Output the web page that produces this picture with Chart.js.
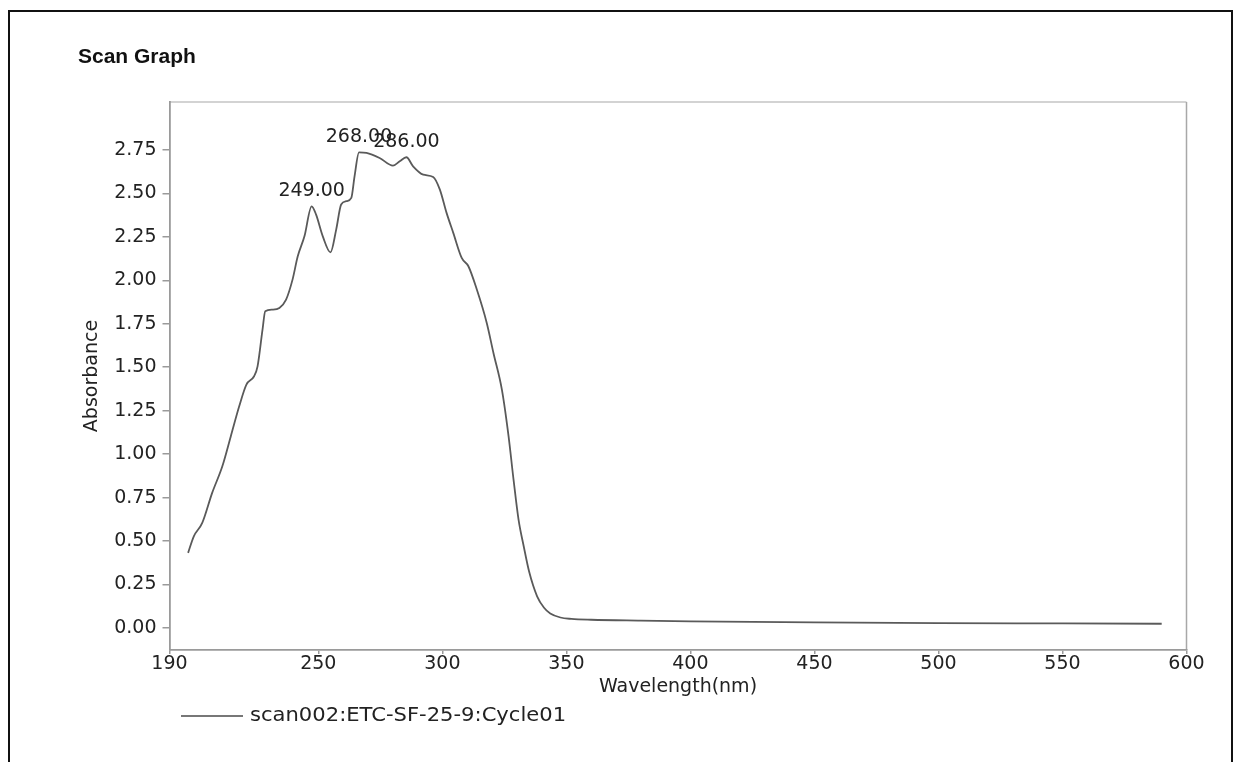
<!DOCTYPE html>
<html>
<head>
<meta charset="utf-8">
<script src="https://cdn.jsdelivr.net/npm/chart.js@4.4.1/dist/chart.umd.min.js"></script>
<style>
  html, body { margin: 0; padding: 0; background: #ffffff; }
  canvas { display: block; }
</style>
</head>
<body>
<canvas id="c" width="1236" height="762"></canvas>
<script>
// ---- data ----
const chartTitle = "Scan Graph";
const seriesName = "scan002:ETC-SF-25-9:Cycle01";
const xAxisTitle = "Wavelength(nm)";
const yAxisTitle = "Absorbance";

const wavelength = [
  197.5, 199.8, 203.2, 207.2, 211.3, 214.7, 218.1, 221.0, 224.1, 225.5,
  227.5, 228.6, 231.5, 234.3, 237.0, 239.6, 241.7, 244.4, 247.3, 249.1,
  251.8, 254.9, 257.2, 259.2, 261.3, 263.3, 264.6, 266.4, 269.4, 274.7,
  280.1, 282.8, 285.5, 288.2, 292.3, 296.3, 299.0, 301.7, 304.4, 307.8,
  310.5, 313.9, 317.9, 320.6, 324.0, 326.7, 328.7, 330.7, 332.8, 335.0,
  338.2, 341.0, 343.5, 347.6, 352.0, 360.0, 380.0, 400.0, 450.0, 500.0,
  550.0, 590.0
];
const absorbance = [
  0.432, 0.527, 0.604, 0.777, 0.930, 1.102, 1.275, 1.400, 1.448, 1.505,
  1.716, 1.822, 1.831, 1.841, 1.889, 2.004, 2.138, 2.253, 2.426, 2.378,
  2.253, 2.161, 2.292, 2.436, 2.455, 2.474, 2.598, 2.736, 2.733, 2.704,
  2.660, 2.685, 2.708, 2.656, 2.608, 2.595, 2.522, 2.388, 2.273, 2.129,
  2.081, 1.947, 1.755, 1.582, 1.371, 1.102, 0.853, 0.625, 0.470, 0.323,
  0.182, 0.116, 0.083, 0.060, 0.052, 0.047, 0.042, 0.038, 0.032, 0.028,
  0.026, 0.024
];
const peakWavelengths = [247.3, 266.4, 285.5];
const peakLabels = ["249.00", "268.00", "286.00"];
const xTickValues = [190, 250, 300, 350, 400, 450, 500, 550, 600];
const yTickValues = [0, 0.25, 0.5, 0.75, 1, 1.25, 1.5, 1.75, 2, 2.25, 2.5, 2.75];

const FONT = "DejaVu Sans";
const TEXT = "#222222";
const AXIS = "#9a9a9a";

const points = wavelength.map((w, i) => ({ x: w, y: absorbance[i] }));

const decorPlugin = {
  id: 'decor',
  beforeDraw(chart) {
    const ctx = chart.ctx;
    ctx.save();
    ctx.fillStyle = '#ffffff';
    ctx.fillRect(0, 0, chart.width, chart.height);
    // outer page frame
    ctx.strokeStyle = '#111111';
    ctx.lineWidth = 2;
    ctx.beginPath();
    ctx.moveTo(9, chart.height);
    ctx.lineTo(9, 11);
    ctx.lineTo(1232, 11);
    ctx.lineTo(1232, chart.height);
    ctx.stroke();
    // plot box top/right
    const a = chart.chartArea;
    ctx.strokeStyle = '#c4c4c4';
    ctx.lineWidth = 1.5;
    ctx.beginPath();
    ctx.moveTo(a.left, a.top);
    ctx.lineTo(a.right, a.top);
    ctx.stroke();
    ctx.strokeStyle = '#a8a8a8';
    ctx.beginPath();
    ctx.moveTo(a.right, a.top);
    ctx.lineTo(a.right, a.bottom);
    ctx.stroke();
    ctx.restore();
  },
  afterDatasetsDraw(chart) {
    const ctx = chart.ctx;
    const meta = chart.getDatasetMeta(0);
    ctx.save();
    ctx.font = "19px '" + FONT + "'";
    ctx.fillStyle = TEXT;
    ctx.textAlign = 'center';
    ctx.textBaseline = 'alphabetic';
    peakWavelengths.forEach((w, k) => {
      const i = wavelength.indexOf(w);
      const el = meta.data[i];
      ctx.fillText(peakLabels[k], el.x, el.y - 10);
    });
    ctx.restore();
  },
  afterDraw(chart) {
    const ctx = chart.ctx;
    ctx.save();
    // title
    ctx.font = "bold 21px 'Liberation Sans'";
    ctx.fillStyle = '#111111';
    ctx.textAlign = 'left';
    ctx.textBaseline = 'middle';
    ctx.fillText(chartTitle, 78, 57);
    // legend
    ctx.strokeStyle = '#777777';
    ctx.lineWidth = 2;
    ctx.beginPath();
    ctx.moveTo(181, 716);
    ctx.lineTo(243, 716);
    ctx.stroke();
    ctx.font = "19px '" + FONT + "'";
    ctx.fillStyle = TEXT;
    ctx.translate(250, 716);
    ctx.scale(1.11, 1);
    ctx.fillText(seriesName, 0, 0);
    ctx.restore();
  }
};

new Chart(document.getElementById('c'), {
  type: 'line',
  data: {
    datasets: [{
      label: seriesName,
      data: points,
      borderColor: '#5a5a5a',
      borderWidth: 1.8,
      pointRadius: 0,
      fill: false,
      cubicInterpolationMode: 'monotone'
    }]
  },
  options: {
    responsive: false,
    animation: false,
    devicePixelRatio: 1,
    layout: { padding: { left: 10, top: 102, right: 49.5, bottom: 0 } },
    plugins: {
      legend: { display: false },
      title: { display: false },
      tooltip: { enabled: false }
    },
    scales: {
      x: {
        type: 'linear',
        min: 190,
        max: 600,
        afterBuildTicks(s) { s.ticks = xTickValues.map(v => ({ value: v })); },
        afterFit(s) { s.height = 112; },
        grid: { display: true, drawOnChartArea: false, drawTicks: true, tickLength: 4, color: AXIS, lineWidth: 1.5 },
        border: { display: true, color: AXIS, width: 1.8 },
        ticks: {
          color: TEXT, padding: -1, maxRotation: 0, autoSkip: false,
          font: { family: FONT, size: 19 },
          callback: v => String(v)
        },
        title: {
          display: true, text: xAxisTitle, color: TEXT,
          font: { family: FONT, size: 19 },
          padding: { top: 0, bottom: 64 }
        }
      },
      y: {
        type: 'linear',
        min: -0.127,
        max: 3.026,
        afterBuildTicks(s) { s.ticks = yTickValues.map(v => ({ value: v })); },
        afterFit(s) { s.width = 159.5; },
        grid: { display: true, drawOnChartArea: false, drawTicks: true, tickLength: 7, color: AXIS, lineWidth: 1.5 },
        border: { display: true, color: AXIS, width: 1.8 },
        ticks: {
          color: TEXT, padding: 6, autoSkip: false,
          font: { family: FONT, size: 19 },
          callback: v => Number(v).toFixed(2)
        },
        title: {
          display: true, text: yAxisTitle, color: TEXT,
          font: { family: FONT, size: 19 },
          padding: { top: 71, bottom: 0 }
        }
      }
    }
  },
  plugins: [decorPlugin]
});
</script>
</body>
</html>
